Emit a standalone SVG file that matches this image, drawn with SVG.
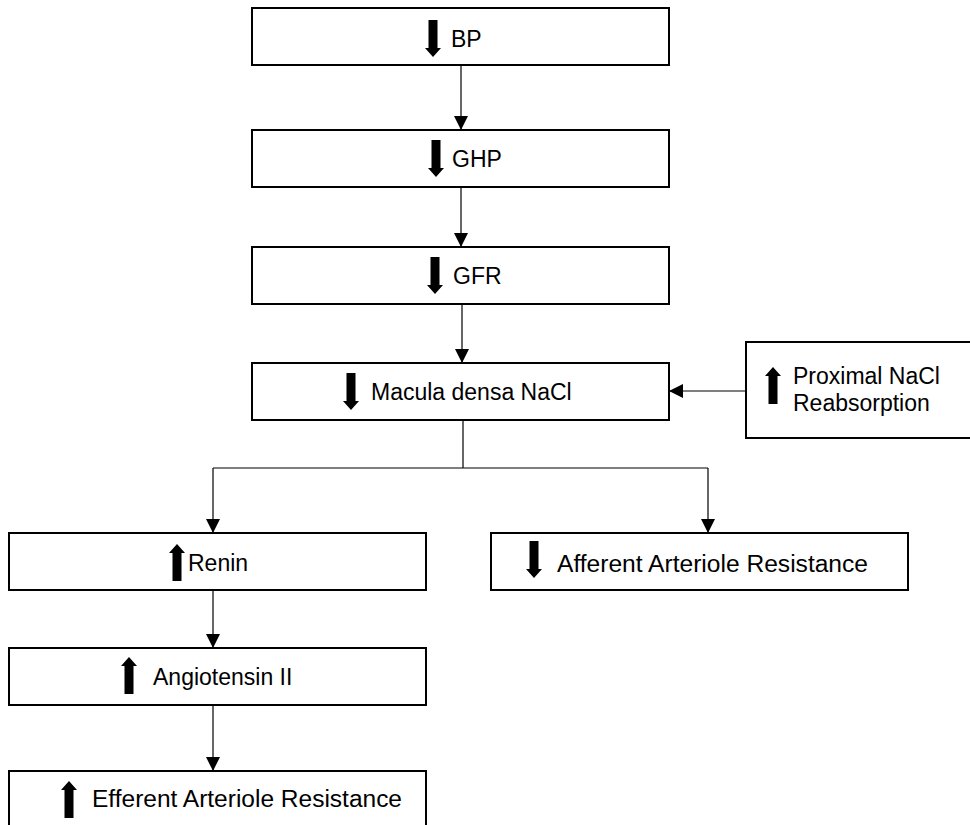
<svg xmlns="http://www.w3.org/2000/svg" width="970" height="825" viewBox="0 0 970 825">
<style>
.box{fill:#fff;stroke:#000;stroke-width:2}
.lbl{font-family:"Liberation Sans",Arial,sans-serif;font-size:23px;fill:#000}
.con{fill:none;stroke:#000;stroke-width:1.2}
.blk{fill:#000}
</style>
<defs>
<marker id="ah" markerUnits="userSpaceOnUse" markerWidth="14" markerHeight="14" viewBox="0 0 14 14" refX="14" refY="7" orient="auto">
<path d="M0,0 L14,7 L0,14 Z" fill="#000"/>
</marker>
<path id="dn" d="M-4.5,0 H4.5 V28 H8 L0,37 L-8,28 H-4.5 Z"/>
<path id="up" d="M-4.5,37 H4.5 V9 H8 L0,0 L-8,9 H-4.5 Z"/>
</defs>
<rect width="970" height="825" fill="#fff"/>
<g id="connectors">
<line class="con" x1="461" y1="65" x2="461" y2="130" marker-end="url(#ah)"/>
<line class="con" x1="461" y1="187" x2="461" y2="247" marker-end="url(#ah)"/>
<line class="con" x1="462" y1="304" x2="462" y2="363" marker-end="url(#ah)"/>
<line class="con" x1="746" y1="391" x2="669" y2="391" marker-end="url(#ah)"/>
<polyline class="con" points="463,420 463,468"/>
<polyline class="con" points="213,468 708,468"/>
<line class="con" x1="213" y1="468" x2="213" y2="533" marker-end="url(#ah)"/>
<line class="con" x1="708" y1="468" x2="708" y2="533" marker-end="url(#ah)"/>
<line class="con" x1="213" y1="590" x2="213" y2="648" marker-end="url(#ah)"/>
<line class="con" x1="213" y1="705" x2="213" y2="771" marker-end="url(#ah)"/>
</g>
<g id="bp">
<rect class="box" x="252" y="8" width="417" height="57"/>
<use href="#dn" class="blk" x="433" y="20"/>
<text class="lbl" x="451" y="47">BP</text>
</g>
<g id="ghp">
<rect class="box" x="252" y="130" width="417" height="57"/>
<use href="#dn" class="blk" x="436" y="140"/>
<text class="lbl" x="452" y="167">GHP</text>
</g>
<g id="gfr">
<rect class="box" x="252" y="247" width="417" height="57"/>
<use href="#dn" class="blk" x="435" y="257"/>
<text class="lbl" x="453" y="284">GFR</text>
</g>
<g id="macula">
<rect class="box" x="252" y="363" width="417" height="57"/>
<use href="#dn" class="blk" x="351" y="373"/>
<text class="lbl" x="371" y="400">Macula densa NaCl</text>
</g>
<g id="proximal">
<rect class="box" x="746" y="342" width="240" height="96"/>
<use href="#up" class="blk" x="773" y="367"/>
<text class="lbl" x="793" y="384">Proximal NaCl</text>
<text class="lbl" x="793" y="411">Reabsorption</text>
</g>
<g id="renin">
<rect class="box" x="9" y="533" width="417" height="57"/>
<use href="#up" class="blk" x="177" y="544"/>
<text class="lbl" x="188" y="571">Renin</text>
</g>
<g id="afferent">
<rect class="box" x="491" y="533" width="417" height="57"/>
<use href="#dn" class="blk" x="534" y="541"/>
<text class="lbl" x="557" y="572" textLength="311" lengthAdjust="spacingAndGlyphs">Afferent Arteriole Resistance</text>
</g>
<g id="angiotensin">
<rect class="box" x="9" y="648" width="417" height="57"/>
<use href="#up" class="blk" x="129" y="657"/>
<text class="lbl" x="153" y="685">Angiotensin II</text>
</g>
<g id="efferent">
<rect class="box" x="9" y="771" width="417" height="70"/>
<use href="#up" class="blk" x="69" y="781"/>
<text class="lbl" x="92" y="807" textLength="310" lengthAdjust="spacingAndGlyphs">Efferent Arteriole Resistance</text>
</g>
</svg>
